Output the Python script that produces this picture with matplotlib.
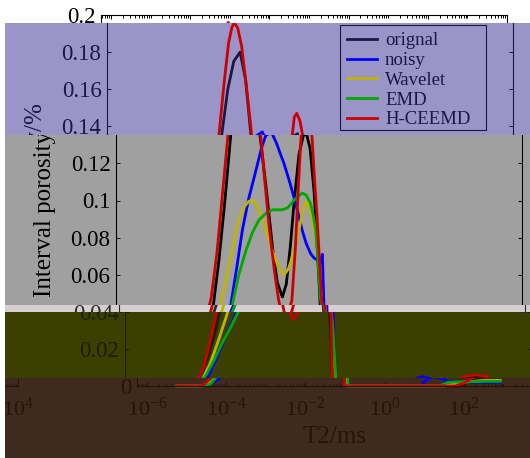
import numpy as np
import matplotlib
matplotlib.use('Agg')
import matplotlib.pyplot as plt
from matplotlib.patches import Rectangle
from matplotlib.ticker import FixedLocator, FixedFormatter, NullFormatter

plt.rcParams['font.family'] = ['Liberation Serif', 'DejaVu Sans']
plt.rcParams['mathtext.fontset'] = 'custom'
plt.rcParams['mathtext.rm'] = 'Liberation Serif'
plt.rcParams['mathtext.it'] = 'Liberation Serif:italic'

# ---------------- data (log10 of T2 in ms, interval porosity in %) -------------
labels = ['orignal', 'noisy', 'Wavelet', 'EMD', 'H-CEEMD']

orig_logt2 = [-5.25, -4.62, -4.45, -4.30, -4.15, -4.00, -3.88, -3.79, -3.65, -3.50,
              -3.35, -3.20, -3.05, -2.89, -2.75, -2.62, -2.45, -2.30, -2.18, -2.05,
              -1.95, -1.85, -1.75, -1.63, -1.52, -1.44, -1.35, -1.25, -1.17, -1.10,
              -1.04, -1.01, 1.90, 2.10, 2.30, 2.60, 2.92]
orig_por = [0, 0, .002, .007, .016, .027, .038, .044, .068, .100,
            .136, .160, .175, .180, .165, .136, .105, .075, .056, .048,
            .055, .075, .100, .125, .135, .136, .128, .105, .075, .046,
            .020, 0, 0, .002, .004, .005, .005]

noisy_logt2 = [-5.25, -4.62, -4.40, -4.18, -4.00, -3.80, -3.60, -3.45, -3.35, -3.20,
               -3.06, -2.90, -2.72, -2.58, -2.47, -2.33, -2.20, -2.08, -2.01, -1.88,
               -1.76, -1.65, -1.55, -1.45, -1.34, -1.25, -1.17, -1.10, -1.04, -1.01,
               -0.97, -0.93, 0.90, 1.10, 1.25, 1.45, 1.60, 2.00, 2.50, 2.92]
noisy_por = [0, 0, .001, .004, .012, .022, .032, .039, .044, .064,
             .084, .101, .116, .128, .135, .137, .131, .124, .120, .111,
             .102, .093, .084, .077, .0715, .069, .068, .066, .071, .050,
             .020, 0, 0, .004, .005, .004, .0025, .002, .002, .002]

wavelet_logt2 = [-5.25, -4.62, -4.45, -4.29, -4.10, -3.90, -3.70, -3.60, -3.45, -3.32,
                 -3.22, -3.10, -3.01, -2.90, -2.81, -2.68, -2.55, -2.42, -2.30, -2.15,
                 -2.01, -1.90, -1.80, -1.71, -1.63, -1.55, -1.46, -1.38, -1.30, -1.17,
                 -1.05, -1.00, -0.95, -0.93, 1.50, 2.00, 2.50, 2.92]
wavelet_por = [0, 0, .001, .004, .012, .024, .037, .044, .060, .072,
               .084, .092, .0967, .0995, .1003, .097, .0895, .081, .073, .064,
               .0598, .063, .0697, .077, .084, .093, .0994, .097, .091, .075,
               .044, .025, .008, 0, 0, .002, .003, .003]

emd_logt2 = [-5.25, -4.62, -4.40, -4.20, -4.00, -3.80, -3.60, -3.41, -3.31, -3.15,
             -2.97, -2.80, -2.64, -2.47, -2.30, -2.15, -2.05, -1.92, -1.80, -1.67,
             -1.55, -1.45, -1.34, -1.27, -1.21, -1.15, -1.10, -1.05, -1.00, -0.95,
             -0.92, 1.40, 1.60, 2.00, 2.50, 2.92]
emd_por = [0, 0, .001, .006, .014, .023, .031, .039, .044, .060,
           .073, .083, .0895, .093, .095, .095, .095, .096, .099, .102,
           .104, .103, .0985, .092, .084, .068, .050, .040, .030, .012,
           0, 0, .002, .0023, .0025, .0025]

hceemd_logt2 = [-5.25, -4.62, -4.50, -4.37, -4.25, -4.10, -3.95, -3.85, -3.70, -3.56,
                -3.42, -3.30, -3.18, -3.10, -3.04, -2.95, -2.85, -2.75, -2.62, -2.50,
                -2.38, -2.25, -2.15, -2.07, -2.01, -1.92, -1.81, -1.72, -1.64, -1.58,
                -1.52, -1.46, -1.38, -1.30, -1.24, -1.17, -1.11, -1.05, -1.03, -1.01,
                1.78, 2.00, 2.19, 2.40, 2.60, 2.75, 2.92]
hceemd_por = [0, 0, .002, .005, .011, .024, .039, .047, .072, .104,
              .136, .162, .185, .193, .196, .193, .183, .165, .140, .112,
              .085, .062, .047, .039, .036, .038, .046, .075, .110, .134,
              .145, .147, .143, .134, .112, .090, .066, .044, .020, 0,
              0, .0015, .004, .0055, .006, .0055, .005]

x_tick_exps = [-6, -4, -2, 0, 2, 4]
y_ticks = [0, 0.02, 0.04, 0.06, 0.08, 0.1, 0.12, 0.14, 0.16, 0.18, 0.2]
y_tick_labels = ['0', '0.02', '0.04', '0.06', '0.08', '0.1', '0.12', '0.14', '0.16', '0.18', '0.2']

series = [
    (labels[0], orig_logt2, orig_por, None),
    (labels[1], noisy_logt2, noisy_por, '#0000ff'),
    (labels[2], wavelet_logt2, wavelet_por, '#bfb400'),
    (labels[3], emd_logt2, emd_por, '#00a800'),
    (labels[4], hceemd_logt2, hceemd_por, '#cc0000'),
]

# ---------------- layout ----------------
W, H = 530, 458
AX_L, AX_R, AX_T, AX_B = 101, 507, 15, 386
WRAP = 525

# bands: (top, bottom, shift, background, ink, x start, wrap)
bands = [
    (0, 23, 0, '#ffffff', '#000000', 0, False),
    (23, 135, 6, '#9b94c9', '#1a1842', 5, False),
    (135, 305, 15, '#a0a0a0', '#000000', 5, False),
    (305, 312, 18, '#d6ced0', '#2a2a2a', 5, False),
    (312, 378, 24, '#3b4000', '#1c1f00', 5, False),
    (378, 458, 36, '#40291d', '#23150c', 5, True),
]

fig = plt.figure(figsize=(W / 100, H / 100), dpi=100)
fig.patch.set_facecolor('white')


def px_rect(x0, y0, x1, y1, **kw):
    return Rectangle((x0 / W, 1 - y1 / H), (x1 - x0) / W, (y1 - y0) / H,
                     transform=fig.transFigure, **kw)


def draw_chart(ax, ink):
    for name, lx, vy, col in series:
        c = ink if col is None else col
        ax.plot(10.0 ** np.array(lx), vy, color=c, lw=2.0, label=name,
                solid_joinstyle='round')
    ax.set_xscale('log')
    ax.set_xlim(10 ** -6.25, 1e4)
    ax.set_ylim(0, 0.2)
    majors = [10.0 ** e for e in x_tick_exps]
    minors = [m * 10.0 ** k for k in range(-7, 5) for m in range(1, 10)
              if m * 10.0 ** k not in majors]
    ax.xaxis.set_major_locator(FixedLocator(majors))
    ax.xaxis.set_major_formatter(FixedFormatter(
        [r'$\mathregular{10^{%d}}$' % e for e in x_tick_exps]))
    ax.xaxis.set_minor_locator(FixedLocator(minors))
    ax.xaxis.set_minor_formatter(NullFormatter())
    ax.yaxis.set_major_locator(FixedLocator(y_ticks))
    ax.yaxis.set_major_formatter(FixedFormatter(y_tick_labels))
    ax.yaxis.set_minor_locator(FixedLocator([]))
    ax.tick_params(which='both', direction='in', top=True, right=True,
                   colors=ink, width=0.7)
    ax.tick_params(which='major', length=3.2)
    ax.tick_params(which='minor', length=1.8)
    ax.tick_params(axis='y', labelsize=16.5, pad=4)
    ax.tick_params(axis='x', labelsize=16, pad=8)
    for sp in ax.spines.values():
        sp.set_color(ink)
        sp.set_linewidth(0.8)
    ax.set_xlabel('T2/ms', fontsize=18, color=ink)
    ax.set_ylabel('Interval porosity/%', fontsize=18, color=ink)
    ax.xaxis.set_label_coords(0.487, -0.108)
    ax.yaxis.set_label_coords(-0.148, 0.5)
    # legend frame (box drawn separately so its size matches the original)
    ax.add_patch(Rectangle((0.5739, 0.690), 0.3596, 0.283, transform=ax.transAxes,
                           facecolor='none', edgecolor=ink, lw=0.8))
    ax.legend(loc='upper left', bbox_to_anchor=(0.591, 0.9534),
              borderaxespad=0, borderpad=0, fontsize=13.5, frameon=False,
              handlelength=1.6, handletextpad=0.43, labelspacing=0.14,
              labelcolor=ink)


axes_clip = []
for (yt, yb, dx, bg, ink, x0, wrap) in bands:
    fig.add_artist(px_rect(x0, yt, W, yb, facecolor=bg, edgecolor='none', zorder=-10))
    clip = px_rect(x0, yt, W, yb)
    shifts = [dx, dx - WRAP] if wrap else [dx]
    for s in shifts:
        ax = fig.add_axes([(AX_L + s) / W, 1 - AX_B / H,
                           (AX_R - AX_L) / W, (AX_B - AX_T) / H])
        ax.set_facecolor('none')
        draw_chart(ax, ink)
        axes_clip.append((ax, clip))

fig.canvas.draw()
for ax, clip in axes_clip:
    for a in ax.findobj():
        if a is ax:
            continue
        a.set_clip_on(True)
        a.set_clip_path(clip)

fig.savefig('out.png', dpi=100)
